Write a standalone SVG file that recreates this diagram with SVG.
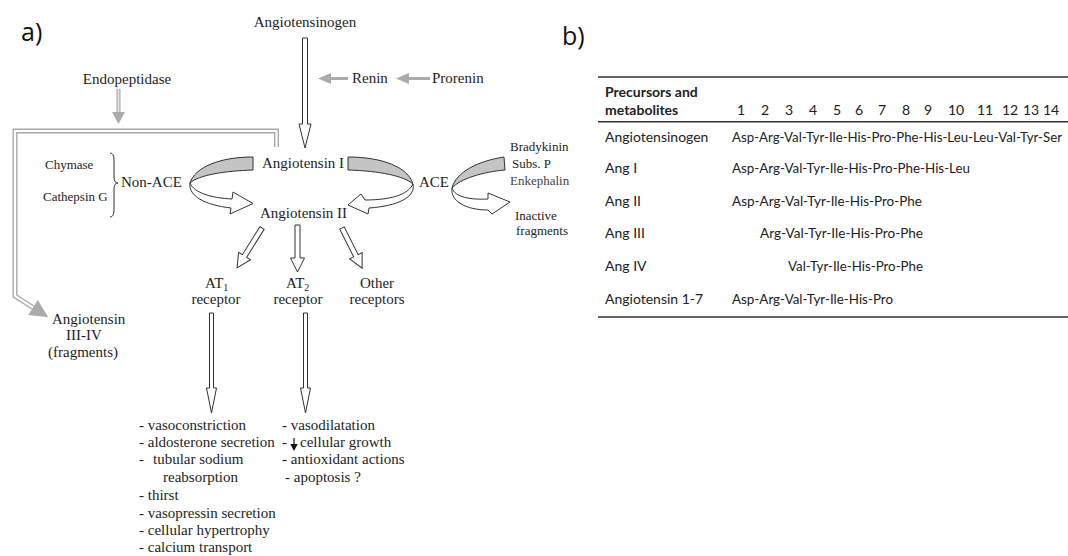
<svg xmlns="http://www.w3.org/2000/svg" width="1068" height="556" viewBox="0 0 1068 556">
<style>
.t{font-family:"Liberation Serif","Times New Roman",serif;font-size:15px;fill:#1e1e1e}
.s{font-size:13px}
.lab{font-family:"Open Sans","Noto Sans",sans-serif;font-size:25px;fill:#111}
.tb{font-family:Lato,"Open Sans",sans-serif;font-size:14px;fill:#222}
.sq{font-size:13.3px}
.b{font-weight:bold}
.hollow{fill:#fff;stroke:#333;stroke-width:1;stroke-linejoin:miter}
.rib{fill:#c4c4c4;stroke:#333;stroke-width:1}
.gray{fill:#ababab;stroke:none}
.rule{stroke:#333;stroke-width:1.4}
</style>
<rect width="1068" height="556" fill="#fff"/>
<text class="lab" x="21" y="41">a)</text>
<text class="lab" x="562" y="45">b)</text>

<g id="connectors">
  <path class="hollow" d="M302.5,38 H307.5 V124 H311 L305,148 L299,124 H302.5 Z"/>
  <rect class="gray" x="330" y="77" width="18" height="3"/>
  <path class="gray" d="M318,78.5 L331,73 L331,84 Z"/>
  <rect class="gray" x="409" y="77" width="21" height="3"/>
  <path class="gray" d="M396,78.5 L409,73 L409,84 Z"/>
  <rect class="gray" x="116.5" y="89" width="4" height="24"/>
  <rect fill="#e6e6e6" x="117.7" y="89" width="1.6" height="23"/>
  <path class="gray" d="M112,112 L125,112 L118.5,124 Z"/>
  <path d="M276.5,147 V131 H15 V296 L33,307.5" fill="none" stroke="#a8a8a8" stroke-width="5" stroke-linejoin="miter"/>
  <path d="M276.5,147 V131 H15 V296 L33,307.5" fill="none" stroke="#fff" stroke-width="2.2" stroke-linejoin="miter"/>
  <path class="gray" d="M48.2,317.2 L28.2,315.1 L37.8,299.9 Z"/>
  <path class="rib" d="M253,157 C220,157 195,167 190,183 C199,175 224,171 253,170 Z"/>
  <path class="hollow" d="M190,183 C188,196 205,205 231,208 L230,214 L253,203.5 L233,192 L232,199 C212,198 194,193 190,183 Z"/>
  <path class="rib" d="M348,157 C382,157 408,167 413,184 C404,176 380,171 348,170 Z"/>
  <path class="hollow" d="M413,184 C416,197 398,206 369,208 L368,214 L348,205 L361,194 L365,200 C390,200 408,195 413,184 Z"/>
  <path class="rib" d="M504,157 L505,170 C482,172 460,179 452,188 C456,172 478,161 504,157 Z"/>
  <path class="hollow" d="M452,188 C450,201 466,210 488,210 L492,214 L510,202 L488,193 L488,199 C470,200 455,197 452,188 Z"/>
  <path class="hollow" transform="translate(262,228) rotate(32)" d="M-2.5,0 H2.5 V33 H7 L0,47 L-7,33 H-2.5 Z"/>
  <path class="hollow" d="M295,225 H300 V258 H304.5 L297.5,272 L290.5,258 H295 Z"/>
  <path class="hollow" transform="translate(342,228) rotate(-26.6)" d="M-2.5,0 H2.5 V31 H7 L0,45 L-7,31 H-2.5 Z"/>
  <path class="hollow" d="M209.5,313 H213.5 V388 H216.5 L211.5,413 L206.5,388 H209.5 Z"/>
  <path class="hollow" d="M303.5,313 H307.5 V388 H310.5 L305.5,413 L300.5,388 H303.5 Z"/>
</g>

<g id="angiotensinogen"><text class="t" x="305" y="27" text-anchor="middle">Angiotensinogen</text></g>
<g id="renin"><text class="t" x="352" y="83">Renin</text></g>
<g id="prorenin"><text class="t" x="432" y="83">Prorenin</text></g>
<g id="endopeptidase"><text class="t" x="127" y="84" text-anchor="middle">Endopeptidase</text></g>
<g id="angI"><text class="t" x="262" y="168">Angiotensin I</text></g>
<g id="angII"><text class="t" x="260" y="218">Angiotensin II</text></g>
<g id="nonace">
  <text class="t s" x="45" y="169">Chymase</text>
  <text class="t s" x="43" y="201">Cathepsin G</text>
  <path d="M110,153 Q114,153 114,160 V177 Q114,183 118,183 Q114,183 114,189 V210 Q114,217 110,217" fill="none" stroke="#333" stroke-width="1"/>
  <text class="t" x="121" y="187">Non-ACE</text>
</g>
<g id="ace"><text class="t" x="419" y="187">ACE</text></g>
<g id="substrates">
  <text class="t s" x="510" y="151">Bradykinin</text>
  <text class="t s" x="512" y="168">Subs. P</text>
  <text class="t s" x="510" y="185" style="fill:#444">Enkephalin</text>
</g>
<g id="inactive">
  <text class="t s" x="515" y="220">Inactive</text>
  <text class="t s" x="516" y="235">fragments</text>
</g>
<g id="fragments">
  <text class="t" x="52" y="324">Angiotensin</text>
  <text class="t" x="84" y="340" text-anchor="middle">III-IV</text>
  <text class="t" x="48" y="357">(fragments)</text>
</g>
<g id="at1">
  <text class="t" x="205" y="288">AT<tspan font-size="10" dy="3">1</tspan></text>
  <text class="t" x="216" y="304" text-anchor="middle">receptor</text>
</g>
<g id="at2">
  <text class="t" x="286" y="288">AT<tspan font-size="10" dy="3">2</tspan></text>
  <text class="t" x="298" y="304" text-anchor="middle">receptor</text>
</g>
<g id="other">
  <text class="t" x="377" y="288" text-anchor="middle">Other</text>
  <text class="t" x="377" y="304" text-anchor="middle">receptors</text>
</g>
<g id="at1-effects">
  <text class="t" x="139" y="430">- vasoconstriction</text>
  <text class="t" x="139" y="447">- aldosterone secretion</text>
  <text class="t" x="139" y="464">-<tspan x="153">tubular sodium</tspan></text>
  <text class="t" x="163" y="482">reabsorption</text>
  <text class="t" x="139" y="500">- thirst</text>
  <text class="t" x="139" y="518">- vasopressin secretion</text>
  <text class="t" x="139" y="535">- cellular hypertrophy</text>
  <text class="t" x="139" y="552">- calcium transport</text>
</g>
<g id="at2-effects">
  <text class="t" x="282" y="430">- vasodilatation</text>
  <text class="t" x="282" y="447">-</text>
  <path d="M294,438 V446" stroke="#111" stroke-width="1.2"/>
  <path d="M290.3,444 H297.7 L294,451 Z" fill="#111"/>
  <text class="t" x="300" y="447">cellular growth</text>
  <text class="t" x="282" y="464">- antioxidant actions</text>
  <text class="t" x="285" y="482">- apoptosis ?</text>
</g>

<g id="table">
  <line class="rule" x1="598" y1="77" x2="1068" y2="77"/>
  <line class="rule" x1="598" y1="121.7" x2="1068" y2="121.7" stroke-width="1.1"/>
  <line class="rule" x1="598" y1="317" x2="1068" y2="317"/>
  <text class="tb b" x="605" y="97">Precursors and</text>
  <text class="tb b" x="605" y="115">metabolites</text>
  <g class="tb">
    <text x="737" y="115">1</text><text x="761" y="115">2</text><text x="785" y="115">3</text>
    <text x="809" y="115">4</text><text x="833" y="115">5</text><text x="855" y="115">6</text>
    <text x="878" y="115">7</text><text x="902" y="115">8</text><text x="924" y="115">9</text>
    <text x="948" y="115">10</text><text x="977" y="115">11</text><text x="1002" y="115">12</text>
    <text x="1023" y="115">13</text><text x="1043" y="115">14</text>
  </g>
  <text class="tb" x="605" y="141.5">Angiotensinogen</text>
  <text class="tb sq" x="732" y="141.5" textLength="330" lengthAdjust="spacingAndGlyphs">Asp-Arg-Val-Tyr-Ile-His-Pro-Phe-His-Leu-Leu-Val-Tyr-Ser</text>
  <text class="tb" x="605" y="173">Ang I</text>
  <text class="tb sq" x="732" y="173" textLength="238" lengthAdjust="spacingAndGlyphs">Asp-Arg-Val-Tyr-Ile-His-Pro-Phe-His-Leu</text>
  <text class="tb" x="605" y="206">Ang II</text>
  <text class="tb sq" x="732" y="206" textLength="190" lengthAdjust="spacingAndGlyphs">Asp-Arg-Val-Tyr-Ile-His-Pro-Phe</text>
  <text class="tb" x="605" y="238">Ang III</text>
  <text class="tb sq" x="760" y="238" textLength="163" lengthAdjust="spacingAndGlyphs">Arg-Val-Tyr-Ile-His-Pro-Phe</text>
  <text class="tb" x="605" y="271">Ang IV</text>
  <text class="tb sq" x="788" y="271" textLength="135" lengthAdjust="spacingAndGlyphs">Val-Tyr-Ile-His-Pro-Phe</text>
  <text class="tb" x="605" y="303.5">Angiotensin 1-7</text>
  <text class="tb sq" x="732" y="303.5" textLength="161" lengthAdjust="spacingAndGlyphs">Asp-Arg-Val-Tyr-Ile-His-Pro</text>
</g>
</svg>
